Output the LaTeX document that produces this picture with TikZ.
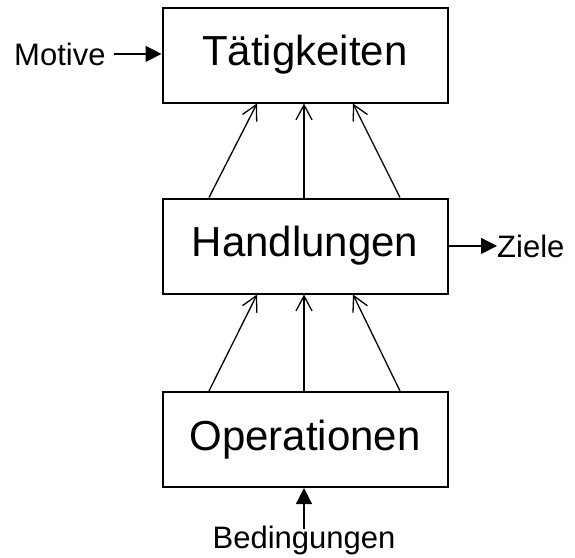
\documentclass[tikz,border=0pt]{standalone}
\usepackage{fontspec}
\setmainfont{Liberation Sans}
\usetikzlibrary{arrows.meta}
\begin{document}
\begin{tikzpicture}[x=1pt,y=-1pt,
  level/.style={draw,line width=2pt,minimum width=285pt,minimum height=95pt,
    inner sep=0pt,font=\fontsize{42}{48}\selectfont},
  label/.style={inner sep=0pt,font=\fontsize{31}{36}\selectfont},
  link/.style={line width=1.3pt,-{Straight Barb[length=15pt,width=16pt]}},
  feed/.style={line width=1.3pt,-{Triangle[length=16pt,width=16pt]}}]
\useasboundingbox (0,0) rectangle (575,557);

% the three levels
\node[level] (tat) at (305,55)    {Tätigkeiten};
\node[level] (han) at (305,246)   {Handlungen};
\node[level] (ope) at (305,439.5) {Operationen};

% outside influences
\node[label,anchor=base west] (mot) at (14,65)   {Motive};
\node[label,anchor=base west] (zie) at (497,257) {Ziele};
\node[label,anchor=base]      (bed) at (304,548) {Bedingungen};

% links between levels
\foreach \lo/\hi in {han/tat,ope/han}{
  \draw[link] ([xshift=-96pt]\lo.north) -- ([xshift=-48pt]\hi.south);
  \draw[link] ([xshift=-1pt]\lo.north)  -- ([xshift=-1pt]\hi.south);
  \draw[link] ([xshift=95pt]\lo.north)  -- ([xshift=48pt]\hi.south);
}

% inputs and outputs
\draw[feed] ([xshift=8pt]mot.east) -- (tat.west |- mot.east);
\draw[feed] (han.east |- zie.west) -- (zie.west);
\draw[feed] ([yshift=-4pt]bed.north) -- (ope.south -| bed.north);
\end{tikzpicture}
\end{document}
